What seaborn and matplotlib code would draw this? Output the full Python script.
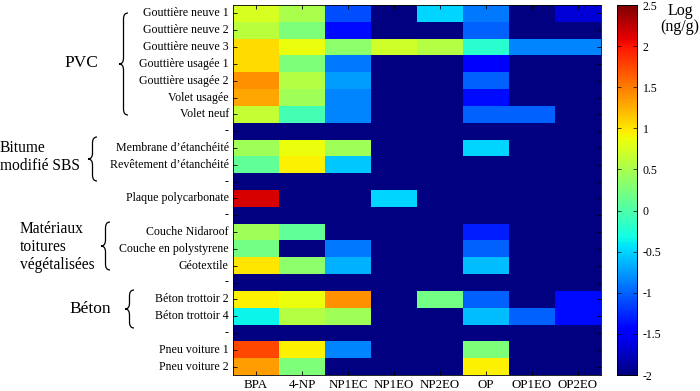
import numpy as np
import pandas as pd
import matplotlib
matplotlib.use("Agg")
import matplotlib.pyplot as plt
from matplotlib.path import Path
from matplotlib.patches import PathPatch
import seaborn as sns

columns = ["BPA", "4-NP", "NP1EC", "NP1EO", "NP2EO", "OP", "OP1EO", "OP2EO"]
row_labels = ["Gouttière neuve 1", "Gouttière neuve 2", "Gouttière neuve 3",
              "Gouttière usagée 1", "Gouttière usagée 2", "Volet usagée", "Volet neuf",
              "-", "Membrane d\u2019étanchéité", "Revêtement d\u2019étanchéité",
              "-", "Plaque polycarbonate", "-",
              "Couche Nidaroof", "Couche en polystyrene", "Géotextile",
              "-", "Béton trottoir 2", "Béton trottoir 4", "-",
              "Pneu voiture 1", "Pneu voiture 2"]

BPA   = [0.75, 0.60, 1.05, 1.05, 1.40, 1.30, 0.65, -2, 0.45, 0.10, -2, 2.15, -2,
         0.45, 0.20, 1.00, -2, 0.95, -0.35, -2, 1.75, 1.35]
NP4   = [0.50, 0.25, 0.85, 0.25, 0.55, 0.45, -0.05, -2, 0.85, 0.95, -2, -2, -2,
         0.10, -2, 0.35, -2, 0.85, 0.55, -2, 0.95, 0.25]
NP1EC = [-1.10, -1.40, 0.35, -0.90, -0.75, -0.85, -0.85, -2, 0.45, -0.55, -2, -2, -2,
         -2, -0.90, -0.65, -2, 1.40, 0.45, -2, -0.85, -2]
NP1EO = [-2, -2, 0.70, -2, -2, -2, -2, -2, -2, -2, -2, -0.50, -2,
         -2, -2, -2, -2, -2, -2, -2, -2, -2]
NP2EO = [-0.50, -2, 0.55, -2, -2, -2, -2, -2, -2, -2, -2, -2, -2,
         -2, -2, -2, -2, 0.20, -2, -2, -2, -2]
OP    = [-0.90, -1.00, -0.20, -1.45, -1.00, -1.40, -1.00, -2, -0.50, -2, -2, -2, -2,
         -1.30, -1.00, -0.60, -2, -1.00, -0.60, -2, 0.25, 0.95]
OP1EO = [-2, -2, -0.85, -2, -2, -2, -1.00, -2, -2, -2, -2, -2, -2,
         -2, -2, -2, -2, -2, -1.00, -2, -2, -2]
OP2EO = [-1.65, -2, -0.85, -2, -2, -2, -2, -2, -2, -2, -2, -2, -2,
         -2, -2, -2, -2, -1.40, -1.40, -2, -2, -2]

groups = ["PVC", "Bitume\nmodifié SBS", "Matériaux\ntoitures\nvégétalisées", "Béton"]
cbar_ticks = [-2, -1.5, -1, -0.5, 0, 0.5, 1, 1.5, 2, 2.5]

df = pd.DataFrame({c: v for c, v in zip(columns, [BPA, NP4, NP1EC, NP1EO, NP2EO, OP, OP1EO, OP2EO])})
df.index = range(len(row_labels))

plt.rcParams["font.family"] = ["Liberation Serif", "DejaVu Serif"]
W, H = 700, 391
fig = plt.figure(figsize=(7, 3.91), dpi=100)
ax = fig.add_axes([233 / W, 1 - 375 / H, (601 - 233) / W, (375 - 5) / H])
cax = fig.add_axes([617 / W, 1 - 375 / H, (637 - 617) / W, (375 - 5) / H])

sns.heatmap(df, ax=ax, cbar_ax=cax, cmap="jet", vmin=-2, vmax=2.5,
            cbar_kws={"ticks": cbar_ticks})

ax.set_yticks(np.arange(len(row_labels)) + 0.5)
ax.set_yticklabels(row_labels, rotation=0, fontsize=8.6)
ax.set_xticks(np.arange(len(columns)) + 0.5)
ax.set_xticklabels(columns, rotation=0, fontsize=9.3)
ax.tick_params(axis="both", direction="in", length=3, width=0.6, color="black",
               top=True, right=True, pad=3)
for s in ax.spines.values():
    s.set_visible(True)
    s.set_linewidth(0.6)
    s.set_color("black")

cax.set_yticklabels(["-2", "-1.5", "-1", "-0.5", "0", "0.5", "1", "1.5", "2", "2.5"], fontsize=8.5)
cax.tick_params(direction="in", length=3, width=0.5, left=True, right=True, pad=4)
for s in cax.spines.values():
    s.set_visible(True)
    s.set_linewidth(0.6)
fig.text(680 / W, 1 - 19 / H, "Log\n(ng/g)", ha="center", va="center", fontsize=11.5,
         linespacing=1.0)


def brace(x, y0, y1, w):
    # left curly brace in pixel coords (y from top); tip at x, ends at x+w
    ym = (y0 + y1) / 2
    xr = x + w
    xm = x + w * 0.5
    c = 6
    pts = [(xr, y0), (xm, y0), (xm, y0 + c),
           (xm, ym - c),
           (xm, ym), (x, ym),
           (xm, ym), (xm, ym + c),
           (xm, y1 - c),
           (xm, y1), (xr, y1)]
    codes = [Path.MOVETO, Path.CURVE3, Path.CURVE3,
             Path.LINETO,
             Path.CURVE3, Path.CURVE3,
             Path.CURVE3, Path.CURVE3,
             Path.LINETO,
             Path.CURVE3, Path.CURVE3]
    pts = [(px / W, 1 - py / H) for px, py in pts]
    p = PathPatch(Path(pts, codes), transform=fig.transFigure, fill=False,
                  lw=0.9, color="black")
    fig.add_artist(p)


brace(119, 13, 115, 9)
brace(88, 137, 181, 9)
brace(101, 222, 270, 9)
brace(125, 290, 328, 9)

fig.text(81 / W, 1 - 63 / H, groups[0], ha="center", va="center", fontsize=12.5)
fig.text(0 / W, 1 - 157 / H, groups[1], ha="left", va="center", fontsize=11.2, linespacing=1.2)
fig.text(20 / W, 1 - 247 / H, groups[2], ha="left", va="center", fontsize=11.2, linespacing=1.2)
fig.text(90 / W, 1 - 309 / H, groups[3], ha="center", va="center", fontsize=12.5)

fig.savefig("out.png", dpi=100)
